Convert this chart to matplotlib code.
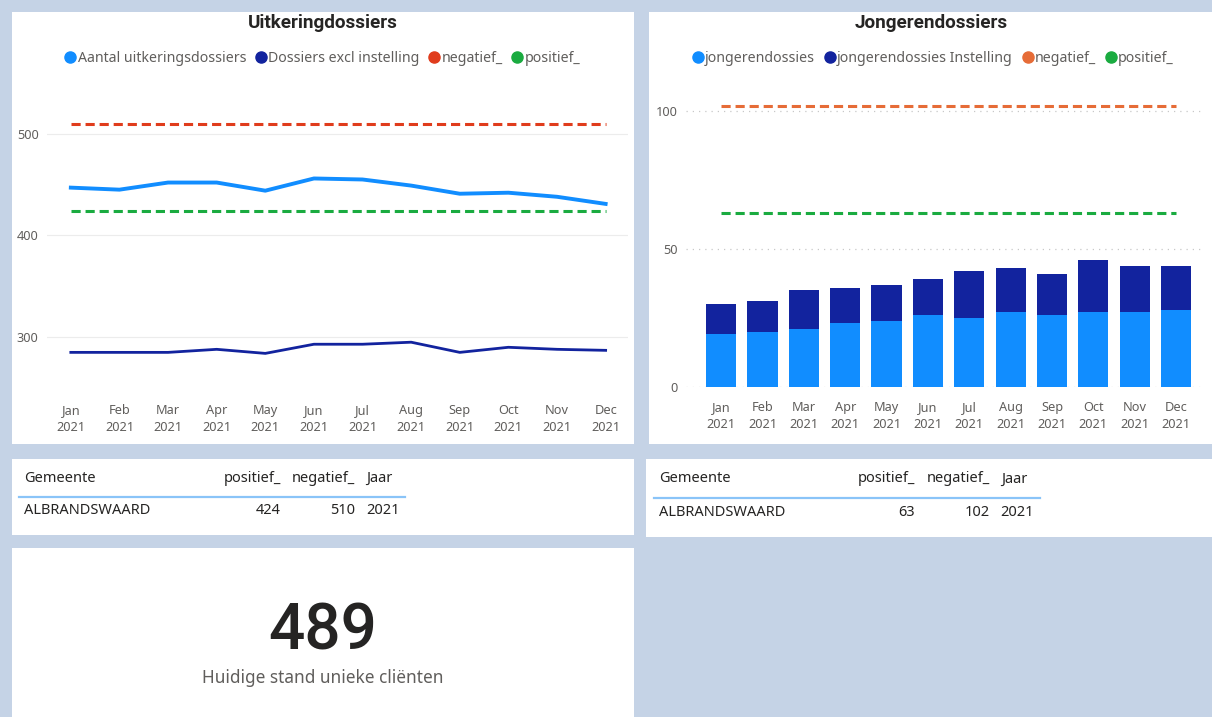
import matplotlib
matplotlib.use('Agg')
import matplotlib.pyplot as plt
from matplotlib.patches import Rectangle
from matplotlib.lines import Line2D
import numpy as np

W, H = 1212, 717

# data
maanden = ['Jan', 'Feb', 'Mar', 'Apr', 'May', 'Jun', 'Jul', 'Aug', 'Sep', 'Oct', 'Nov', 'Dec']
jaar = '2021'

uitkering = [447, 445, 452, 452, 444, 456, 455, 449, 441, 442, 438, 431]
excl_instelling = [285, 285, 285, 288, 284, 293, 293, 295, 285, 290, 288, 287]
uitk_negatief = 510
uitk_positief = 424

jongeren = [19, 20, 21, 23, 24, 26, 25, 27, 26, 27, 27, 28]
jongeren_instelling = [11, 11, 14, 13, 13, 13, 17, 16, 15, 19, 17, 16]
jong_negatief = 102
jong_positief = 63

gemeente = 'ALBRANDSWAARD'
unieke_clienten = 489

# colours
BG = '#c5d3e6'
LIGHT = '#118dff'
DARK = '#12239e'
RED = '#e03c1c'
ORANGE = '#e66c37'
GREEN = '#1aab40'
GREY = '#605e5c'
TXT = '#252423'
FONT = ['Noto Sans', 'DejaVu Sans']
TITLEFONT = ['Roboto', 'DejaVu Sans']

plt.rcParams['font.family'] = FONT

fig = plt.figure(figsize=(W / 100, H / 100), dpi=100, facecolor=BG)


def panel(x0, y0, x1, y1):
    fig.add_artist(Rectangle((x0 / W, 1 - y1 / H), (x1 - x0) / W, (y1 - y0) / H,
                             transform=fig.transFigure, facecolor='white',
                             edgecolor='none', zorder=-1))


def px_axes(x0, y0, x1, y1):
    return fig.add_axes([x0 / W, 1 - y1 / H, (x1 - x0) / W, (y1 - y0) / H])


def txt(x, y, s, **kw):
    kw.setdefault('va', 'center')
    return fig.text(x / W, 1 - y / H, s, **kw)


panel(12, 12, 634, 444)
panel(649, 12, 1212, 444)
panel(12, 459, 634, 535)
panel(646, 459, 1212, 537)
panel(12, 548, 634, 717)

labels = [m + '\n' + jaar for m in maanden]
x = np.arange(len(maanden))


def style(ax):
    ax.set_facecolor('none')
    for s in ax.spines.values():
        s.set_visible(False)
    ax.tick_params(length=0, labelsize=9.2, labelcolor=GREY)
    ax.tick_params(axis='x', pad=10)
    ax.tick_params(axis='y', pad=6)
    ax.set_xticks(x)
    ax.set_xticklabels(labels, linespacing=1.45)
    ax.set_axisbelow(True)


# left: Uitkeringdossiers
ax1 = px_axes(47, 90, 628, 390)
style(ax1)
ax1.set_xlim(-0.49, 11.46)
ax1.set_ylim(248, 543)
ax1.set_yticks([300, 400, 500])
ax1.grid(axis='y', color='#ececec', lw=0.8)
ax1.plot(x, [uitk_negatief] * 12, color=RED, lw=2.2, ls=(0, (3, 1.6)))
ax1.plot(x, [uitk_positief] * 12, color=GREEN, lw=2.2, ls=(0, (3, 1.6)))
ax1.plot(x, uitkering, color=LIGHT, lw=2.8, solid_joinstyle='round')
ax1.plot(x, excl_instelling, color=DARK, lw=2.0, solid_joinstyle='round')

txt(323, 23, 'Uitkeringdossiers', ha='center', fontsize=13.6, fontweight='bold',
    color=TXT, family=TITLEFONT)


def legend(cx, names, colors):
    handles = [Line2D([], [], ls='', marker='o', markersize=8, color=c) for c in colors]
    fig.legend(handles, names, loc='center', bbox_to_anchor=(cx / W, 1 - 58 / H),
               ncol=4, frameon=False, fontsize=10.2, labelcolor=GREY,
               handletextpad=-0.1, columnspacing=0.45, handlelength=1.2,
               borderaxespad=0)


legend(321, ['Aantal uitkeringsdossiers', 'Dossiers excl instelling', 'negatief_', 'positief_'],
       [LIGHT, DARK, RED, GREEN])

# right: Jongerendossiers
ax2 = px_axes(686, 90.3, 1205, 386.7)
style(ax2)
ax2.set_xlim(-0.85, 11.7)
ax2.set_ylim(0, 107.7)
ax2.set_yticks([0, 50, 100])
ax2.grid(axis='y', color='#c8c8c8', lw=0.9, ls=(0, (1, 4)))
ax2.bar(x, jongeren, width=0.73, color=LIGHT)
ax2.bar(x, jongeren_instelling, bottom=jongeren, width=0.73, color=DARK)
ax2.plot(x, [jong_negatief] * 12, color=ORANGE, lw=2.2, ls=(0, (3, 1.6)))
ax2.plot(x, [jong_positief] * 12, color=GREEN, lw=2.2, ls=(0, (3, 1.6)))

txt(931, 23, 'Jongerendossiers', ha='center', fontsize=13.6, fontweight='bold',
    color=TXT, family=TITLEFONT)
legend(931.5, ['jongerendossies', 'jongerendossies Instelling', 'negatief_', 'positief_'],
       [LIGHT, DARK, ORANGE, GREEN])


# tables
def table(x0, col_pos, col_neg, col_jaar, line_end, y_head, pos, neg):
    fs = 10.5
    txt(x0 + 12, y_head, 'Gemeente', fontsize=fs, color=TXT)
    txt(col_pos, y_head, 'positief_', ha='right', fontsize=fs, color=TXT)
    txt(col_neg, y_head, 'negatief_', ha='right', fontsize=fs, color=TXT)
    txt(col_neg + 11, y_head, 'Jaar', fontsize=fs, color=TXT)
    fig.add_artist(Line2D([(x0 + 7) / W, line_end / W], [1 - (y_head + 19) / H] * 2,
                          transform=fig.transFigure, color='#8ac4f8', lw=1.6))
    txt(x0 + 12, y_head + 33, gemeente, fontsize=fs, color=TXT)
    txt(col_pos, y_head + 33, str(pos), ha='right', fontsize=fs, color=TXT)
    txt(col_neg, y_head + 33, str(neg), ha='right', fontsize=fs, color=TXT)
    txt(col_jaar, y_head + 33, jaar, ha='right', fontsize=fs, color=TXT)


table(12, 281, 355, 400, 405, 478, uitk_positief, uitk_negatief)
table(647, 915, 990, 1034, 1040, 479, jong_positief, jong_negatief)

# card
txt(323, 631, str(unieke_clienten), ha='center', fontsize=46, color=TXT,
    family=TITLEFONT, fontweight='medium')
txt(323, 678, 'Huidige stand unieke cliënten', ha='center', fontsize=12.4, color=GREY)

fig.savefig('out.png', dpi=100, facecolor=BG)
